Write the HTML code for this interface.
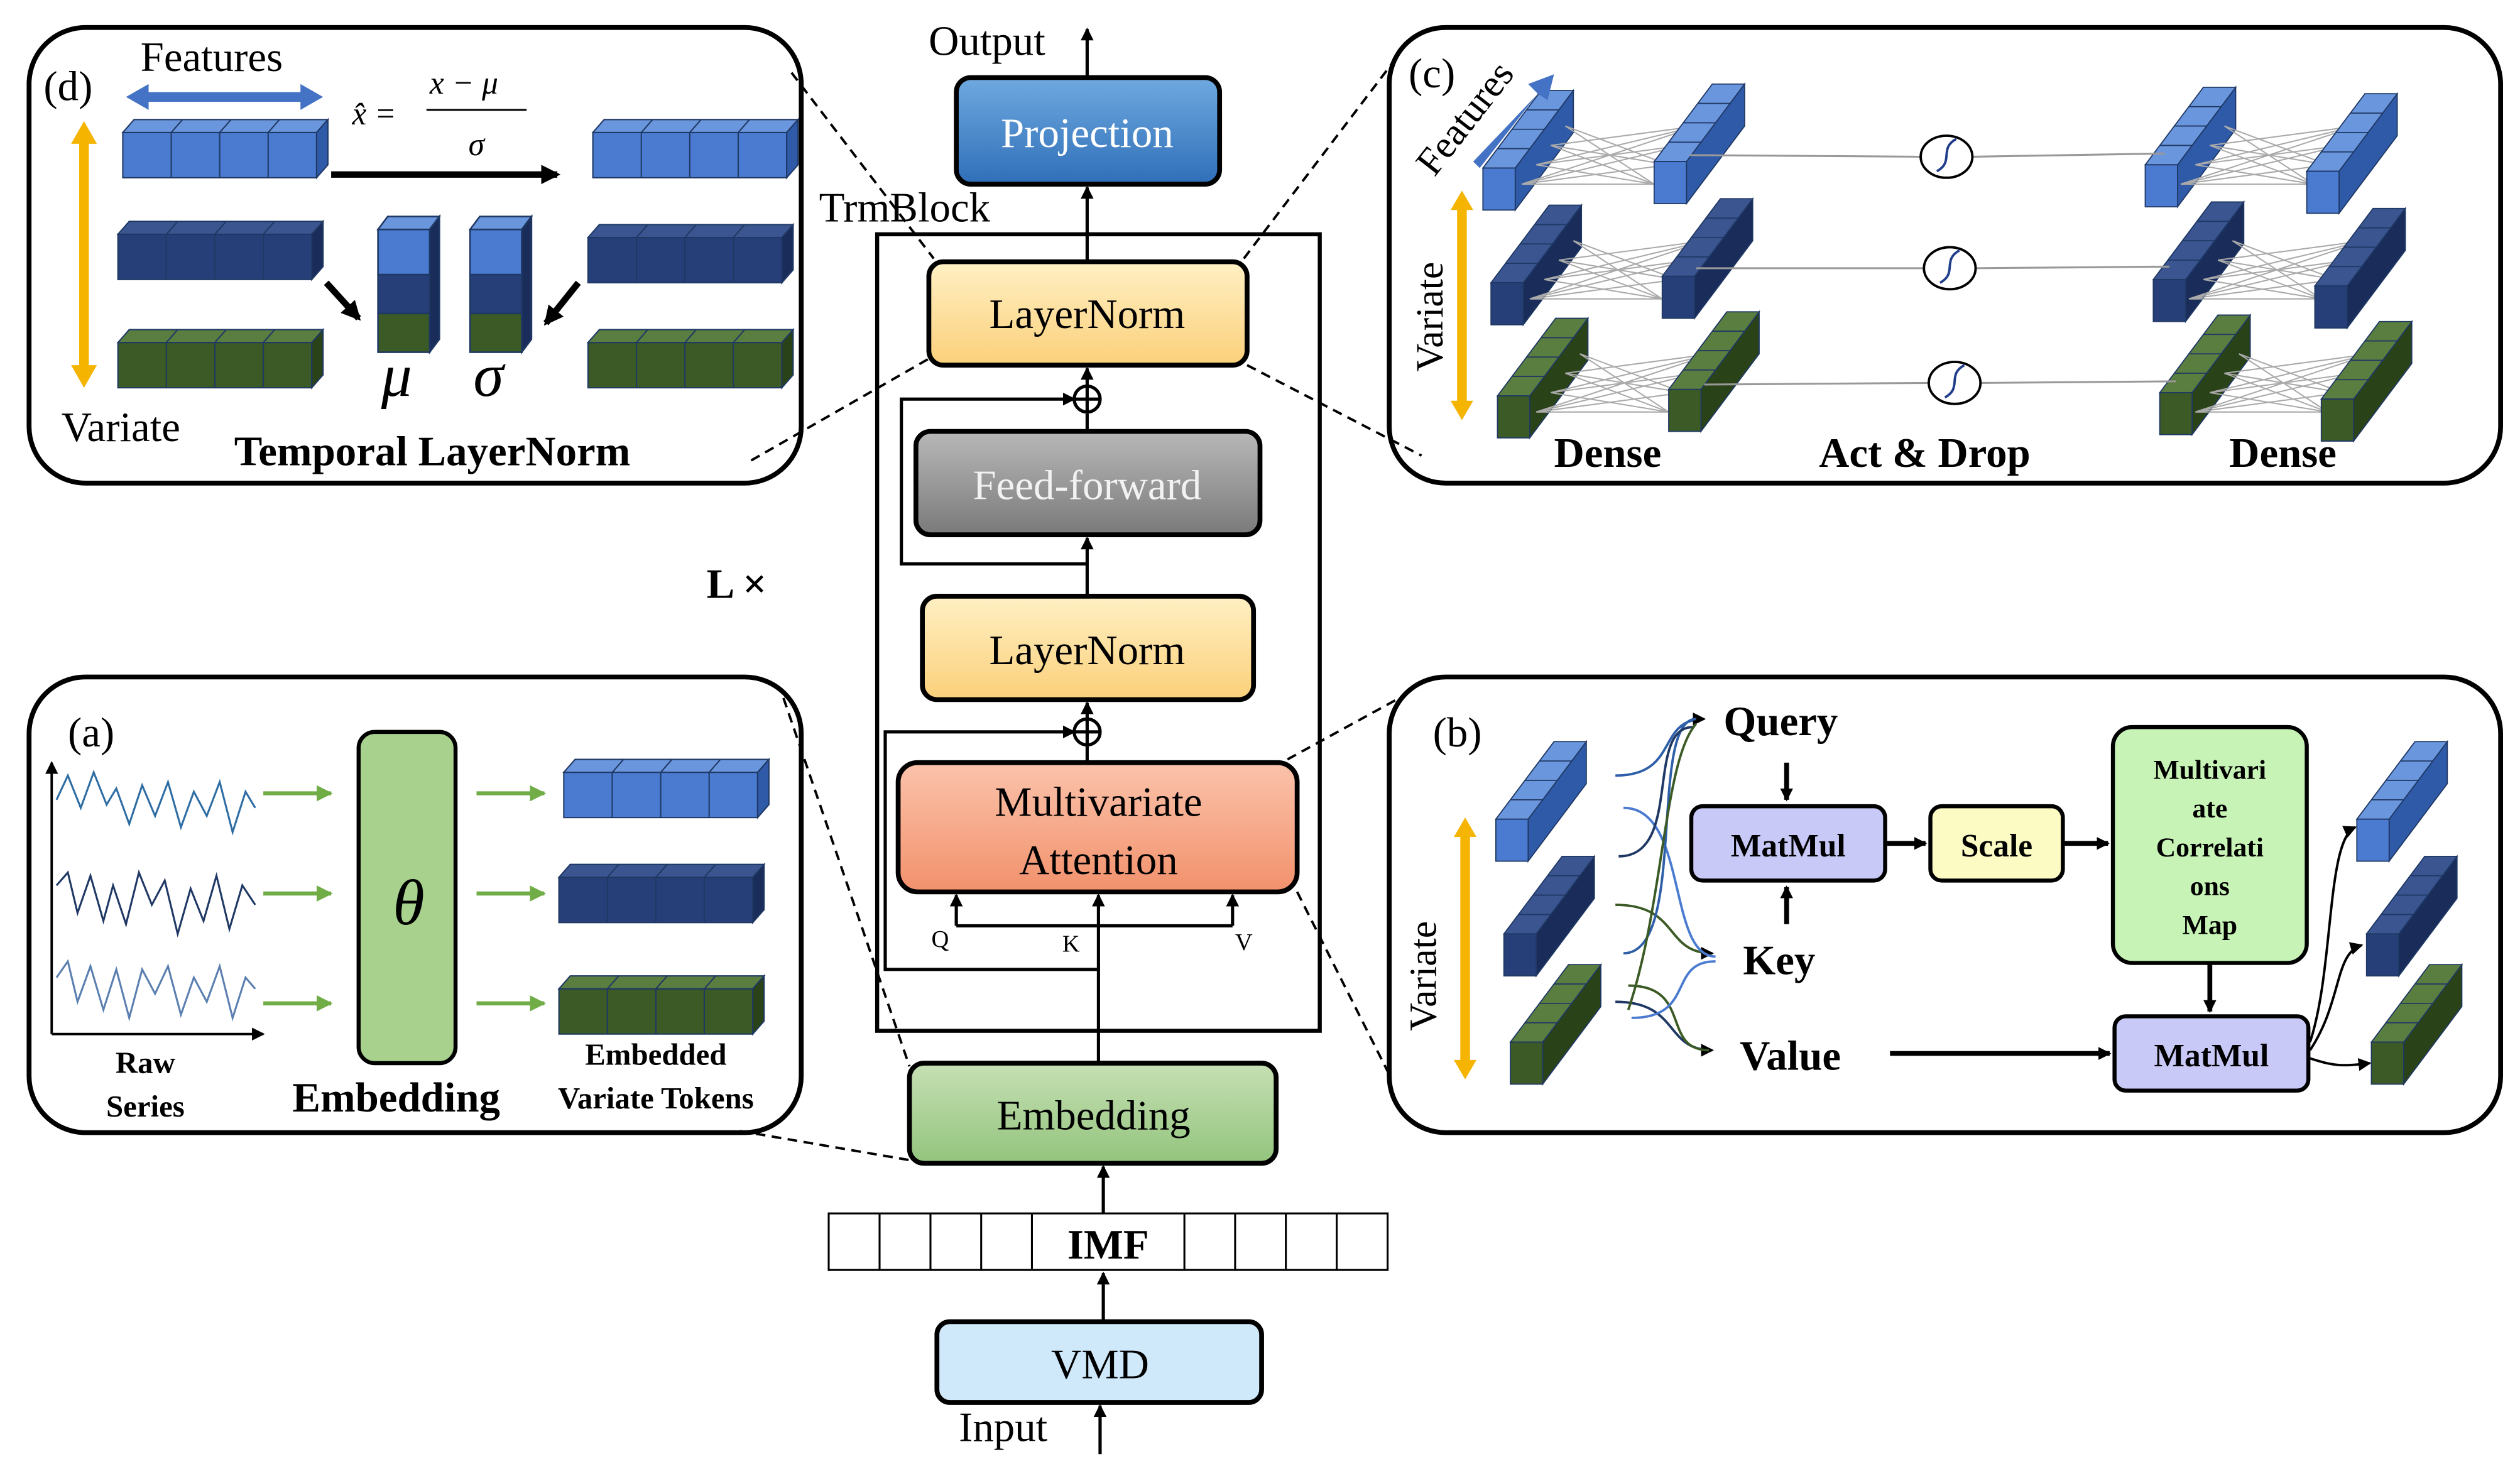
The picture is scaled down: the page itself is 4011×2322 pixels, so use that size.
<!DOCTYPE html>
<html><head><meta charset="utf-8"><style>
html,body{margin:0;padding:0;background:#fff}
svg{display:block}
text{font-family:"Liberation Serif",serif}
</style></head><body>
<svg width="4011" height="2322" viewBox="0 0 1560 903" preserveAspectRatio="none" xmlns="http://www.w3.org/2000/svg">
<defs>
<linearGradient id="gP" x1="0" y1="0" x2="0" y2="1"><stop offset="0" stop-color="#6fa9e0"/><stop offset="1" stop-color="#2f6fb8"/></linearGradient>
<linearGradient id="gL" x1="0" y1="0" x2="0" y2="1"><stop offset="0" stop-color="#fff0c4"/><stop offset="1" stop-color="#fbd07a"/></linearGradient>
<linearGradient id="gF" x1="0" y1="0" x2="0" y2="1"><stop offset="0" stop-color="#b8b8b8"/><stop offset="1" stop-color="#7a7a7a"/></linearGradient>
<linearGradient id="gM" x1="0" y1="0" x2="0" y2="1"><stop offset="0" stop-color="#fbc3ab"/><stop offset="1" stop-color="#f2916c"/></linearGradient>
<linearGradient id="gE" x1="0" y1="0" x2="0" y2="1"><stop offset="0" stop-color="#c6e0b4"/><stop offset="1" stop-color="#93c47d"/></linearGradient>
<marker id="ar" markerWidth="8" markerHeight="8" refX="7" refY="4" orient="auto" markerUnits="userSpaceOnUse"><path d="M0,0 L8,4 L0,8 z" fill="#000"/></marker>
<marker id="arG" markerWidth="10" markerHeight="10" refX="9" refY="5" orient="auto" markerUnits="userSpaceOnUse"><path d="M0,0 L10,5 L0,10 z" fill="#70ad47"/></marker>
<marker id="arB" markerWidth="12" markerHeight="12" refX="10" refY="6" orient="auto" markerUnits="userSpaceOnUse"><path d="M0,0 L12,6 L0,12 z" fill="#000"/></marker>
<g id="barb" stroke="#1f3864" stroke-width="0.8"><rect x="0" y="0" width="120" height="28" fill="#4a7bd0"/><polygon points="0,0 7,-8 127,-8 120,0" fill="#6a96dd"/><polygon points="120,0 127,-8 127,20 120,28" fill="#2f5aa8"/><path d="M30,0V28M60,0V28M90,0V28M30,0L37,-8M60,0L67,-8M90,0L97,-8" fill="none"/></g>
<g id="barn" stroke="#1f3864" stroke-width="0.8"><rect x="0" y="0" width="120" height="28" fill="#263f78"/><polygon points="0,0 7,-8 127,-8 120,0" fill="#3a5590"/><polygon points="120,0 127,-8 127,20 120,28" fill="#1a2d5a"/><path d="M30,0V28M60,0V28M90,0V28M30,0L37,-8M60,0L67,-8M90,0L97,-8" fill="none"/></g>
<g id="barg" stroke="#1f3864" stroke-width="0.8"><rect x="0" y="0" width="120" height="28" fill="#3b5a25"/><polygon points="0,0 7,-8 127,-8 120,0" fill="#5a7d40"/><polygon points="120,0 127,-8 127,20 120,28" fill="#2a4218"/><path d="M30,0V28M60,0V28M90,0V28M30,0L37,-8M60,0L67,-8M90,0L97,-8" fill="none"/></g>
<g id="db" stroke="#1f3864" stroke-width="0.7"><polygon points="20,0 56,-48 56,-22 20,26" fill="#2f5aa8"/><polygon points="0,0 36,-48 56,-48 20,0" fill="#6a96dd"/><rect x="0" y="0" width="20" height="26" fill="#4a7bd0"/><path d="M9,-12H29M18,-24H38M27,-36H47" fill="none"/></g>
<g id="dn" stroke="#1f3864" stroke-width="0.7"><polygon points="20,0 56,-48 56,-22 20,26" fill="#1a2d5a"/><polygon points="0,0 36,-48 56,-48 20,0" fill="#3a5590"/><rect x="0" y="0" width="20" height="26" fill="#263f78"/><path d="M9,-12H29M18,-24H38M27,-36H47" fill="none"/></g>
<g id="dg" stroke="#1f3864" stroke-width="0.7"><polygon points="20,0 56,-48 56,-22 20,26" fill="#2a4218"/><polygon points="0,0 36,-48 56,-48 20,0" fill="#5a7d40"/><rect x="0" y="0" width="20" height="26" fill="#3b5a25"/><path d="M9,-12H29M18,-24H38M27,-36H47" fill="none"/></g>
<g id="fan" stroke="#aaa" stroke-width="0.8"><path d="M24,10L106,10M24,10L115,-2M24,10L124,-14M24,10L133,-26M33,-2L106,10M33,-2L124,-14M42,-14L106,10M42,-14L133,-26M51,-26L106,10M51,-26L115,-2M33,-2L133,-26M42,-14L115,-2" fill="none"/></g>
</defs>
<g fill="none" stroke="#000" stroke-width="3">
<rect x="18" y="17" width="478" height="282" rx="35"/>
<rect x="860" y="17" width="688" height="282" rx="35"/>
<rect x="18" y="419" width="478" height="282" rx="35"/>
<rect x="860" y="419" width="688" height="282" rx="35"/>
</g>
<rect x="543" y="145" width="274" height="493" fill="none" stroke="#000" stroke-width="2.5"/>
<g stroke="#000" stroke-width="1.5" stroke-dasharray="6,4" fill="none">
<line x1="490" y1="45" x2="578" y2="160"/><line x1="465" y1="285" x2="575" y2="222"/>
<line x1="770" y1="160" x2="865" y2="35"/><line x1="772" y1="226" x2="880" y2="282"/>
<line x1="797" y1="470" x2="870" y2="430"/><line x1="803" y1="552" x2="860" y2="665"/>
<line x1="485" y1="432" x2="563" y2="660"/><line x1="458" y1="700" x2="563" y2="718"/>
</g>
<g stroke="#000" stroke-width="2" fill="none">
<line x1="673" y1="48" x2="673" y2="18" marker-end="url(#ar)"/>
<line x1="673" y1="162" x2="673" y2="116" marker-end="url(#ar)"/>
<line x1="673" y1="240" x2="673" y2="228" marker-end="url(#ar)"/>
<line x1="673" y1="267" x2="673" y2="256"/>
<line x1="673" y1="369" x2="673" y2="333" marker-end="url(#ar)"/>
<line x1="673" y1="446" x2="673" y2="435" marker-end="url(#ar)"/>
<line x1="673" y1="472" x2="673" y2="462"/>
<polyline points="673,349 558,349 558,247 665,247" marker-end="url(#ar)"/>
<polyline points="680,600 548,600 548,453 665,453" marker-end="url(#ar)"/>
<line x1="680" y1="658" x2="680" y2="573"/>
<line x1="592" y1="573" x2="763" y2="573"/>
<line x1="592" y1="573" x2="592" y2="554" marker-end="url(#ar)"/>
<line x1="680" y1="573" x2="680" y2="554" marker-end="url(#ar)"/>
<line x1="763" y1="573" x2="763" y2="554" marker-end="url(#ar)"/>
<line x1="683" y1="751" x2="683" y2="722" marker-end="url(#ar)"/>
<line x1="683" y1="818" x2="683" y2="788" marker-end="url(#ar)"/>
<line x1="681" y1="900" x2="681" y2="870" marker-end="url(#ar)"/>
<circle cx="673" cy="247" r="8" fill="#fff"/><line x1="665" y1="247" x2="681" y2="247"/><line x1="673" y1="239" x2="673" y2="255"/>
<circle cx="673" cy="453" r="8" fill="#fff"/><line x1="665" y1="453" x2="681" y2="453"/><line x1="673" y1="445" x2="673" y2="461"/>
</g>
<g stroke="#000" stroke-width="3">
<rect x="592" y="48" width="163" height="66" rx="9" fill="url(#gP)"/>
<rect x="575" y="162" width="197" height="64" rx="9" fill="url(#gL)"/>
<rect x="567" y="267" width="213" height="64" rx="9" fill="url(#gF)"/>
<rect x="571" y="369" width="205" height="64" rx="9" fill="url(#gL)"/>
<rect x="556" y="472" width="247" height="80" rx="12" fill="url(#gM)"/>
<rect x="563" y="658" width="227" height="62" rx="9" fill="url(#gE)"/>
<rect x="580" y="818" width="201" height="50" rx="8" fill="#cfe9fa"/>
</g>
<g stroke="#000" stroke-width="1.2" fill="#fff">
<rect x="513" y="751" width="346" height="35"/>
<path d="M544.5,751V786M576,751V786M607.4,751V786M638.8,751V786M733.2,751V786M764.6,751V786M796,751V786M827.5,751V786" fill="none"/>
</g>
<g font-size="26" text-anchor="middle">
<text x="673" y="91" fill="#fff">Projection</text>
<text x="673" y="203">LayerNorm</text>
<text x="673" y="309" fill="#f2f2f2">Feed-forward</text>
<text x="673" y="411">LayerNorm</text>
<text x="680" y="505">Multivariate</text>
<text x="680" y="541">Attention</text>
<text x="677" y="699">Embedding</text>
<text x="681" y="853">VMD</text>
<text x="686" y="779" font-weight="bold">IMF</text>
<text x="611" y="34">Output</text>
<text x="621" y="892">Input</text>
<text x="560" y="137">TrmBlock</text>
<text x="456" y="370" font-weight="bold">L ×</text>
</g>
<g font-size="15" text-anchor="middle"><text x="582" y="586">Q</text><text x="663" y="589">K</text><text x="770" y="588">V</text></g>
<!-- d -->
<use href="#barb" x="76" y="82"/><use href="#barn" x="73" y="145"/><use href="#barg" x="73" y="212"/>
<use href="#barb" x="367" y="82"/><use href="#barn" x="364" y="147"/><use href="#barg" x="364" y="212"/>
<g stroke="#1f3864">
<rect x="234" y="142" width="32" height="28" fill="#4a7bd0"/><rect x="234" y="170" width="32" height="24" fill="#263f78"/><rect x="234" y="194" width="32" height="24" fill="#3b5a25"/>
<polygon points="234,142 240,134 272,134 266,142" fill="#6a96dd"/><polygon points="266,142 272,134 272,210 266,218" fill="#1a2d5a"/>
<rect x="291" y="142" width="32" height="28" fill="#4a7bd0"/><rect x="291" y="170" width="32" height="24" fill="#263f78"/><rect x="291" y="194" width="32" height="24" fill="#3b5a25"/>
<polygon points="291,142 297,134 329,134 323,142" fill="#6a96dd"/><polygon points="323,142 329,134 329,210 323,218" fill="#1a2d5a"/>
</g>
<!-- c -->
<use href="#db" x="918" y="104"/><use href="#fan" x="918" y="104"/><use href="#db" x="1024" y="100"/>
<use href="#db" x="1328" y="102"/><use href="#fan" x="1326" y="104"/><use href="#db" x="1428" y="106"/>
<use href="#dn" x="923" y="175"/><use href="#fan" x="923" y="175"/><use href="#dn" x="1029" y="171"/>
<use href="#dn" x="1333" y="173"/><use href="#fan" x="1331" y="175"/><use href="#dn" x="1433" y="177"/>
<use href="#dg" x="927" y="245"/><use href="#fan" x="927" y="245"/><use href="#dg" x="1033" y="241"/>
<use href="#dg" x="1337" y="243"/><use href="#fan" x="1335" y="245"/><use href="#dg" x="1437" y="247"/>
<!-- a tokens -->
<use href="#barb" x="349" y="478"/><use href="#barn" x="346" y="543"/><use href="#barg" x="346" y="612"/>
<!-- b blocks -->
<use href="#db" x="926" y="507"/><use href="#dn" x="931" y="578"/><use href="#dg" x="935" y="645"/>
<use href="#db" x="1459" y="507"/><use href="#dn" x="1465" y="578"/><use href="#dg" x="1468" y="645"/>
<g stroke-width="1.5" fill="none">
<path d="M1000,480 C1040,480 1025,445 1055,445" stroke="#2e5fa8" marker-end="url(#ar)"/>
<path d="M1000,560 C1040,560 1030,590 1060,590" stroke="#3b5a25" marker-end="url(#ar)"/>
<path d="M1000,620 C1040,620 1030,650 1060,650" stroke="#1f3864" marker-end="url(#ar)"/>
<path d="M1005,500 C1045,500 1032,592 1062,592" stroke="#4a7bd0"/>
<path d="M1005,590 C1045,590 1020,445 1050,445" stroke="#2e5fa8"/>
<path d="M1008,610 C1048,610 1028,650 1058,650" stroke="#3b5a25"/>
<path d="M1002,530 C1042,530 1018,450 1048,450" stroke="#1f3864"/>
<path d="M1010,630 C1050,630 1032,595 1062,595" stroke="#4a7bd0"/>
<path d="M1008,625 C1030,560 1030,470 1050,448" stroke="#3b5a25"/>
</g>
<g font-size="26">
<text x="27" y="62">(d)</text><text x="87" y="44">Features</text><text x="38" y="273">Variate</text>
<text x="145" y="288" font-weight="bold">Temporal LayerNorm</text>
<text x="236" y="245" font-style="italic" font-size="38">μ</text><text x="293" y="245" font-style="italic" font-size="38">σ</text>
<text x="872" y="54">(c)</text>
<text x="962" y="289" font-weight="bold">Dense</text><text x="1126" y="289" font-weight="bold">Act &amp; Drop</text><text x="1380" y="289" font-weight="bold">Dense</text>
<text x="888" y="110" transform="rotate(-52 888 110)" font-size="24">Features</text>
<text x="893" y="230" transform="rotate(-90 893 230)" font-size="24">Variate</text>
<text x="42" y="462">(a)</text><text x="887" y="462">(b)</text>
<text x="889" y="638" transform="rotate(-90 889 638)" font-size="24">Variate</text>
<text x="1067" y="455" font-weight="bold">Query</text><text x="1079" y="603" font-weight="bold">Key</text><text x="1077" y="662" font-weight="bold">Value</text>
<text x="181" y="688" font-weight="bold">Embedding</text>
</g>
<g font-size="20" font-style="italic"><text x="218" y="77">x̂ =</text><text x="266" y="58">x − μ</text><text x="290" y="96">σ</text></g>
<line x1="264" y1="68" x2="326" y2="68" stroke="#000" stroke-width="1.2"/>
<g font-size="19" font-weight="bold" text-anchor="middle">
<text x="90" y="664">Raw</text><text x="90" y="691">Series</text>
<text x="406" y="659">Embedded</text><text x="406" y="686">Variate Tokens</text>
</g>
<g stroke="#000" stroke-width="2.5">
<rect x="1047" y="499" width="120" height="46" rx="7" fill="#c9c9f8"/>
<rect x="1195" y="499" width="82" height="46" rx="7" fill="#fdfbc4"/>
<rect x="1308" y="450" width="120" height="146" rx="12" fill="#c8f3b6"/>
<rect x="1309" y="629" width="120" height="46" rx="7" fill="#c9c9f8"/>
</g>
<g font-size="20" font-weight="bold" text-anchor="middle">
<text x="1107" y="530">MatMul</text><text x="1236" y="530">Scale</text><text x="1369" y="660">MatMul</text>
</g>
<g font-size="17" font-weight="bold" text-anchor="middle">
<text x="1368" y="482">Multivari</text><text x="1368" y="506">ate</text><text x="1368" y="530">Correlati</text><text x="1368" y="554">ons</text><text x="1368" y="578">Map</text>
</g>
<g stroke="#000" stroke-width="3" fill="none">
<line x1="1106" y1="472" x2="1106" y2="495" marker-end="url(#ar)"/>
<line x1="1106" y1="572" x2="1106" y2="549" marker-end="url(#ar)"/>
<line x1="1167" y1="522" x2="1192" y2="522" marker-end="url(#ar)"/>
<line x1="1277" y1="522" x2="1305" y2="522" marker-end="url(#ar)"/>
<line x1="1368" y1="596" x2="1368" y2="626" marker-end="url(#ar)"/>
<line x1="1170" y1="652" x2="1306" y2="652" marker-end="url(#ar)"/>
</g>
<g stroke="#000" stroke-width="1.5" fill="none">
<path d="M1430,645 C1445,600 1440,520 1458,512" marker-end="url(#ar)"/>
<path d="M1430,650 C1450,620 1445,590 1462,585" marker-end="url(#ar)"/>
<path d="M1430,655 C1445,660 1450,660 1467,658" marker-end="url(#ar)"/>
</g>
<g stroke="#000" stroke-width="1.5" fill="none">
<polyline points="32,640 32,472" marker-end="url(#ar)"/>
<polyline points="32,640 163,640" marker-end="url(#ar)"/>
</g>
<g stroke="#2e6da4" stroke-width="1.2" fill="none">
<polyline points="35,495 42,480 50,500 58,478 66,498 72,488 80,510 88,486 96,505 104,484 112,512 120,490 128,505 136,484 144,515 152,490 158,500"/>
<polyline points="35,548 42,540 48,565 56,542 64,570 70,548 78,572 86,540 94,560 102,545 110,578 118,550 126,570 134,542 142,575 150,548 158,560" stroke="#1f3864"/>
<polyline points="35,605 42,595 48,620 56,598 64,625 72,600 80,630 88,600 96,615 104,598 112,628 120,605 128,620 136,598 144,630 152,605 158,612" stroke="#5b7fb0"/>
</g>
<rect x="222" y="453" width="60" height="205" rx="10" fill="#a9d18e" stroke="#000" stroke-width="2.5"/>
<text x="253" y="572" font-style="italic" font-size="40" text-anchor="middle">θ</text>
<g stroke="#70ad47" stroke-width="2.5">
<line x1="163" y1="491" x2="205" y2="491" marker-end="url(#arG)"/><line x1="163" y1="553" x2="205" y2="553" marker-end="url(#arG)"/><line x1="163" y1="621" x2="205" y2="621" marker-end="url(#arG)"/>
<line x1="295" y1="491" x2="337" y2="491" marker-end="url(#arG)"/><line x1="295" y1="553" x2="337" y2="553" marker-end="url(#arG)"/><line x1="295" y1="621" x2="337" y2="621" marker-end="url(#arG)"/>
</g>
<g stroke="#000" stroke-width="4" fill="none">
<line x1="205" y1="108" x2="345" y2="108" marker-end="url(#arB)"/>
<line x1="202" y1="175" x2="222" y2="197" marker-end="url(#arB)"/>
<line x1="358" y1="175" x2="338" y2="200" marker-end="url(#arB)"/>
</g>
<g fill="#4472c4"><polygon points="78,60 92,52 92,57 186,57 186,52 200,60 186,68 186,63 92,63 92,68"/></g>
<g fill="#f4b400"><polygon points="52,75 44,89 49,89 49,226 44,226 52,240 60,226 55,226 55,89 60,89"/>
<polygon points="905,118 898,130 902,130 902,248 898,248 905,260 912,248 908,248 908,130 912,130"/>
<polygon points="907,506 900,518 904,518 904,656 900,656 907,668 914,656 910,656 910,518 914,518"/></g>
<polygon points="912,100 952,58 946,52 962,46 958,62 952,58 916,104" fill="#4472c4"/>
<g stroke="#999" stroke-width="1.2">
<line x1="1046" y1="96" x2="1189" y2="97"/><line x1="1221" y1="97" x2="1340" y2="95"/>
<line x1="1050" y1="166" x2="1191" y2="166"/><line x1="1223" y1="166" x2="1343" y2="165"/>
<line x1="1055" y1="238" x2="1194" y2="237"/><line x1="1226" y1="237" x2="1347" y2="236"/>
</g>
<g stroke="#000" stroke-width="1.5" fill="#fff">
<ellipse cx="1205" cy="97" rx="16" ry="13"/><ellipse cx="1207" cy="166" rx="16" ry="13"/><ellipse cx="1210" cy="237" rx="16" ry="13"/>
</g>
<g stroke="#1f3d8a" stroke-width="1.5" fill="none">
<path d="M1199,106 C1210,100 1200,92 1211,86"/><path d="M1201,175 C1212,169 1202,161 1213,155"/><path d="M1204,246 C1215,240 1205,232 1216,226"/>
</g>
</svg>
</body></html>
